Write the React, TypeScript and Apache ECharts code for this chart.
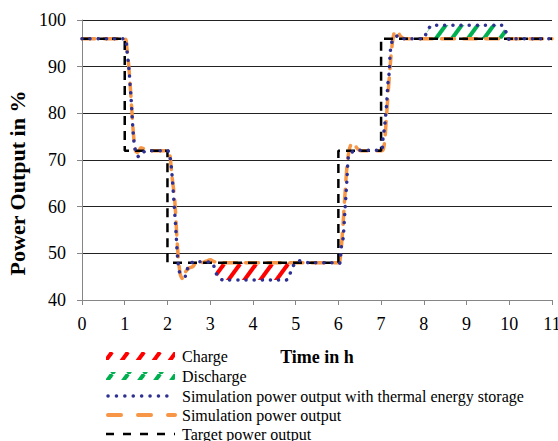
import React, { useEffect, useRef } from "react";
import * as echarts from "echarts";

// ---- data ----
const xTicks = [0, 1, 2, 3, 4, 5, 6, 7, 8, 9, 10, 11];
const yTicks = [40, 50, 60, 70, 80, 90, 100];

const targetT = [0, 1, 1, 2, 2, 6, 6, 7, 7, 11];
const targetV = [96, 96, 72, 72, 48, 48, 72, 72, 96, 96];

const simT = [0, 1.0, 1.05, 1.1, 1.15, 1.2, 1.25, 1.3, 1.38, 1.45, 1.6, 2.0, 2.05, 2.1, 2.17, 2.24, 2.3, 2.36, 2.42, 2.5, 2.6, 2.7, 2.8, 2.9, 3.0, 3.1, 3.2, 6.0, 6.05, 6.1, 6.15, 6.2, 6.25, 6.3, 6.36, 6.43, 6.52, 7.02, 7.07, 7.12, 7.17, 7.22, 7.27, 7.32, 7.38, 7.45, 7.55, 11];
const simV = [96, 96, 94, 89.5, 83, 76, 72, 71.6, 72.6, 72.4, 72, 72, 71.5, 67, 61.4, 50.7, 45.5, 44.5, 46, 46.8, 47.2, 48.4, 48, 48.3, 48.6, 48.2, 48, 48, 49.5, 55, 62, 68.5, 72, 73.4, 73.6, 72.6, 72, 72, 73, 78.5, 85, 91, 95.5, 97.5, 97.6, 96.6, 96, 96];

const tesT = [0, 1.0, 1.05, 1.1, 1.15, 1.2, 1.25, 1.33, 1.42, 1.55, 2.0, 2.05, 2.09, 2.15, 2.2, 2.24, 2.3, 2.42, 2.5, 2.65, 3.05, 3.1, 3.18, 3.3, 4.78, 4.9, 4.98, 5.09, 5.3, 6.0, 6.03, 6.07, 6.11, 6.15, 6.2, 6.24, 6.3, 6.46, 7.0, 7.04, 7.09, 7.13, 7.16, 7.19, 7.22, 7.28, 7.4, 7.52, 8.0, 8.05, 8.15, 8.26, 9.82, 9.94, 10.01, 10.1, 11];
const tesV = [96, 96, 93.6, 89.3, 83, 75.7, 72, 70.7, 71.6, 72, 72, 71, 68.6, 61.4, 54.5, 48.9, 45.5, 45.1, 47.5, 48.2, 48, 46.8, 45, 44.3, 44.3, 46.4, 47.8, 48.4, 48, 48, 47.9, 51.4, 53.2, 58.6, 65.7, 71.1, 71.6, 72.1, 72.1, 74.3, 77.9, 82.1, 86.4, 88.9, 93.6, 95.9, 96.6, 96, 96, 97, 98.6, 98.9, 98.9, 97.1, 95.7, 96, 96];

const chargeT = [3.05, 3.1, 3.18, 3.3, 4.78, 4.9, 4.98, 5.05];
const chargeLow = [48, 46.8, 45, 44.3, 44.3, 46.4, 47.8, 48];
const chargeLevel = 48;

const dischargeT = [8.0, 8.05, 8.15, 8.26, 9.82, 9.94, 10.0];
const dischargeHigh = [96, 97, 98.6, 98.9, 98.9, 97.1, 96];
const dischargeLevel = 96;

const legendLabels = [
  "Charge",
  "Discharge",
  "Simulation power output with thermal energy storage",
  "Simulation power output",
  "Target power output",
];

const FONT = "Liberation Serif";
const RED = "#ff0000";
const GREEN = "#00b050";
const BLUE = "#2e3192";
const ORANGE = "#f79646";

function hatch(color: string) {
  const c = document.createElement("canvas");
  const w = 16;
  const h = 22;
  c.width = w;
  c.height = h;
  const ctx = c.getContext("2d")!;
  ctx.strokeStyle = color;
  ctx.lineWidth = 4;
  for (const off of [-w, 0, w]) {
    ctx.beginPath();
    ctx.moveTo(off, h);
    ctx.lineTo(off + w, 0);
    ctx.stroke();
  }
  return { image: c, repeat: "repeat" } as any;
}

export default function App() {
  const ref = useRef<HTMLDivElement>(null);
  useEffect(() => {
    document.body.style.margin = "0";
    const chart = echarts.init(ref.current!, null, { renderer: "svg" });
    const redPat = hatch(RED);
    const greenPat = hatch(GREEN);
    const pairs = (t: number[], v: number[]) => t.map((x, i) => [x, v[i]]);
    const hidden = { opacity: 0, width: 0 };

    const legendRows = [356, 376, 396, 415, 434];
    const lx1 = 106;
    const lx2 = 175;
    const legendGraphics: any[] = [
      { type: "rect", shape: { x: lx1, y: legendRows[0] - 4, width: lx2 - lx1, height: 8 }, style: { fill: redPat } },
      { type: "rect", shape: { x: lx1, y: legendRows[1] - 4, width: lx2 - lx1, height: 8 }, style: { fill: greenPat } },
      { type: "line", shape: { x1: lx1 + 2, y1: legendRows[2], x2: lx2, y2: legendRows[2] }, style: { stroke: BLUE, lineWidth: 3.5, lineDash: [0.1, 8.3], lineCap: "round" } },
      { type: "line", shape: { x1: lx1 + 2, y1: legendRows[3], x2: lx2, y2: legendRows[3] }, style: { stroke: ORANGE, lineWidth: 4, lineDash: [13, 17], lineCap: "round" } },
      { type: "line", shape: { x1: lx1, y1: legendRows[4], x2: lx2, y2: legendRows[4] }, style: { stroke: "#000", lineWidth: 2.5, lineDash: [8, 9] } },
      ...legendLabels.map((t, i) => ({
        type: "text",
        x: 182,
        y: legendRows[i],
        style: { text: t, fontFamily: FONT, fontSize: 16, fill: "#000", verticalAlign: "middle" },
      })),
      {
        type: "text",
        x: 317,
        y: 357,
        style: { text: "Time in h", fontFamily: FONT, fontSize: 18, fontWeight: "bold", fill: "#000", align: "center", verticalAlign: "middle" },
      },
      {
        type: "text",
        x: 17,
        y: 183,
        rotation: Math.PI / 2,
        style: { text: "Power Output in %", fontFamily: FONT, fontSize: 22, fontWeight: "bold", fill: "#000", align: "center", verticalAlign: "middle" },
      },
    ];

    chart.setOption({
      animation: false,
      backgroundColor: "#fff",
      textStyle: { fontFamily: FONT },
      grid: { left: 82, right: 6, top: 20, bottom: 141, outerBoundsMode: "none" },
      xAxis: {
        type: "value",
        min: xTicks[0],
        max: xTicks[xTicks.length - 1],
        interval: 1,
        axisLine: { show: true, lineStyle: { color: "#868686", width: 1 } },
        axisTick: { show: true, length: 5, lineStyle: { color: "#868686" } },
        axisLabel: { fontFamily: FONT, fontSize: 18, color: "#000", margin: 15 },
        splitLine: { show: false },
      },
      yAxis: {
        type: "value",
        min: yTicks[0],
        max: yTicks[yTicks.length - 1],
        interval: 10,
        axisLine: { show: true, lineStyle: { color: "#868686", width: 1 } },
        axisTick: { show: true, length: 5, lineStyle: { color: "#868686" } },
        axisLabel: { fontFamily: FONT, fontSize: 18, color: "#000", margin: 16 },
        splitLine: { show: true, lineStyle: { color: "#222", width: 1 } },
      },
      series: [
        { type: "line", data: pairs(chargeT, chargeLow), symbol: "none", lineStyle: hidden, areaStyle: { color: redPat, opacity: 1, origin: chargeLevel }, silent: true, z: 1 },
        { type: "line", data: pairs(dischargeT, dischargeHigh), symbol: "none", lineStyle: hidden, areaStyle: { color: greenPat, opacity: 1, origin: dischargeLevel }, silent: true, z: 1 },
        { name: legendLabels[3], type: "line", data: pairs(simT, simV), symbol: "none", smooth: 0.3, lineStyle: { color: ORANGE, width: 3.5, type: [13, 9], cap: "round" }, z: 2 },
        { name: legendLabels[4], type: "line", data: pairs(targetT, targetV), symbol: "none", lineStyle: { color: "#000", width: 2.5, type: [9, 6] }, z: 3 },
        { name: legendLabels[2], type: "line", data: pairs(tesT, tesV), symbol: "none", smooth: 0.3, lineStyle: { color: BLUE, width: 3.5, type: [0.1, 8], cap: "round" }, z: 4 },
      ],
      graphic: legendGraphics,
    });
    return () => chart.dispose();
  }, []);
  return <div ref={ref} style={{ position: "absolute", left: 0, top: 0, width: 558, height: 441 }} />;
}
